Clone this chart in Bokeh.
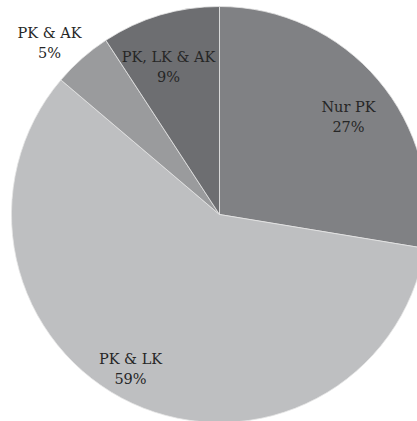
import numpy as np
from bokeh.plotting import figure
from bokeh.models import Range1d, ColumnDataSource
from bokeh.core.properties import value
from bokeh.embed import file_html
from bokeh.resources import INLINE

# ---- data ----
categories = ["Nur PK", "PK & LK", "PK & AK", "PK, LK & AK"]
shares = [27.6, 58.6, 4.6, 9.2]          # slice sizes as drawn
pct_labels = ["27%", "59%", "5%", "9%"]  # labels as printed
colors = ["#808184", "#bebfc1", "#9a9b9d", "#6d6e71"]

# ---- layout (px from top-left of picture) ----
W, H = 417, 421
CX, CY, R = 219, 214, 208
label_x = [348, 130, 49, 168]
label_base = [106, 358, 32, 56]
LINE = 20.5

vals = np.array(shares, dtype=float)
frac = vals / vals.sum()
cum = np.concatenate([[0], np.cumsum(frac)])
start = np.deg2rad(90 - cum[:-1] * 360)
end = np.deg2rad(90 - cum[1:] * 360)

src = ColumnDataSource(dict(start=start, end=end, color=colors,
                            name=categories, pct=pct_labels,
                            lx=label_x, ly1=[-b for b in label_base],
                            ly2=[-(b + LINE) for b in label_base]))

p = figure(width=W, height=H, output_backend="svg", toolbar_location=None,
           x_range=Range1d(0, W), y_range=Range1d(-H, 0),
           min_border=0)
p.axis.visible = False
p.grid.visible = False
p.outline_line_color = None
p.background_fill_color = "white"

p.wedge(x=CX, y=-CY, radius=R, start_angle="start", end_angle="end",
        direction="clock", fill_color="color", line_color="#e6e6e6",
        line_width=0.8, source=src)

font = value("DejaVu Serif")
p.text(x="lx", y="ly1", text="name", source=src, text_align="center",
       text_baseline="alphabetic", text_font=font, text_font_size="14.5px",
       text_color="#262626")
p.text(x="lx", y="ly2", text="pct", source=src, text_align="center",
       text_baseline="alphabetic", text_font=font, text_font_size="14.5px",
       text_color="#262626")

open("out.html", "w").write(file_html(p, INLINE))
